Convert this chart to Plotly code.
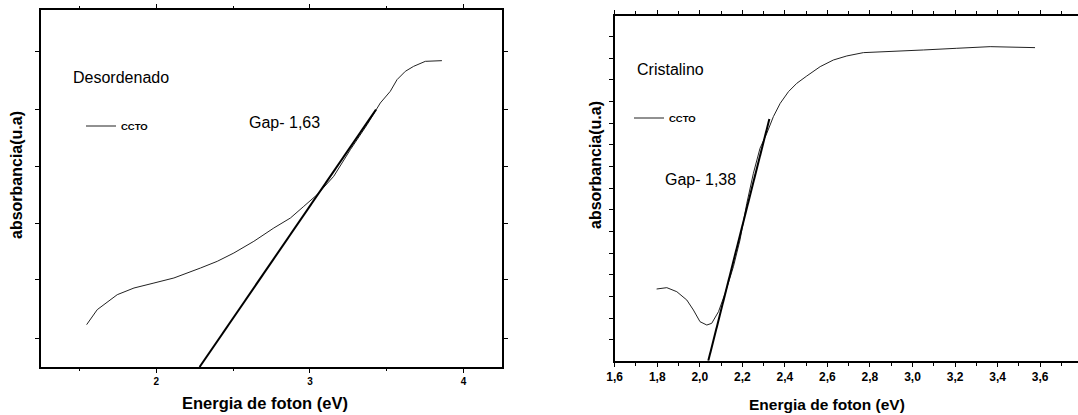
import plotly.graph_objects as go

# ---- Left panel (Desordenado) ----
left_energy = [1.547, 1.616, 1.746, 1.855, 1.985, 2.115, 2.288, 2.397, 2.505, 2.635,
               2.765, 2.873, 2.960, 3.047, 3.155, 3.263, 3.372, 3.458, 3.523, 3.567,
               3.621, 3.675, 3.751, 3.859]
left_abs = [0.747, 1.012, 1.276, 1.394, 1.482, 1.571, 1.747, 1.865, 2.012, 2.218,
            2.453, 2.629, 2.835, 3.041, 3.365, 3.835, 4.276, 4.659, 4.865, 5.071,
            5.218, 5.306, 5.394, 5.406]
left_fit_x = [2.282, 3.430]
left_fit_y = [0.0, 4.541]

# ---- Right panel (Cristalino) ----
right_energy = [1.797, 1.845, 1.892, 1.939, 1.970, 2.001, 2.033, 2.056, 2.088, 2.119,
                2.158, 2.189, 2.221, 2.252, 2.283, 2.315, 2.346, 2.378, 2.417, 2.456,
                2.503, 2.566, 2.628, 2.691, 2.769, 2.895, 3.051, 3.208, 3.365, 3.576]
right_abs = [1.654, 1.685, 1.592, 1.400, 1.169, 0.900, 0.823, 0.862, 1.131, 1.554,
             2.169, 2.785, 3.631, 4.323, 4.900, 5.246, 5.631, 5.938, 6.208, 6.400,
             6.569, 6.785, 6.938, 7.031, 7.108, 7.131, 7.169, 7.208, 7.246, 7.223]
right_fit_x = [2.040, 2.327]
right_fit_y = [0.0, 5.577]

left_xticks = [2, 3, 4]
left_xtick_labels = ["2", "3", "4"]
right_xticks = [1.6, 1.8, 2.0, 2.2, 2.4, 2.6, 2.8, 3.0, 3.2, 3.4, 3.6]
right_xtick_labels = ["1,6", "1,8", "2,0", "2,2", "2,4", "2,6", "2,8", "3,0", "3,2", "3,4", "3,6"]

FONT = "Liberation Sans, Arial, sans-serif"

fig = go.Figure()

fig.add_trace(go.Scatter(x=left_energy, y=left_abs, mode="lines", name="CCTO",
                         line=dict(color="#222222", width=1), xaxis="x", yaxis="y",
                         legend="legend"))
fig.add_trace(go.Scatter(x=left_fit_x, y=left_fit_y, mode="lines", showlegend=False,
                         line=dict(color="black", width=2), xaxis="x", yaxis="y"))
fig.add_trace(go.Scatter(x=right_energy, y=right_abs, mode="lines", name="CCTO",
                         line=dict(color="#222222", width=1), xaxis="x2", yaxis="y2",
                         legend="legend2"))
fig.add_trace(go.Scatter(x=right_fit_x, y=right_fit_y, mode="lines", showlegend=False,
                         line=dict(color="black", width=2), xaxis="x2", yaxis="y2"))

axis_common = dict(showline=True, linecolor="black", linewidth=2, showgrid=False,
                   zeroline=False, ticks="outside", tickcolor="black", ticklen=4,
                   tickwidth=1, automargin=False)

fig.update_layout(
    width=1078, height=415,
    margin=dict(l=0, r=0, t=0, b=0, autoexpand=False),
    paper_bgcolor="white", plot_bgcolor="white",
    font=dict(family=FONT, color="black"),
    xaxis=dict(domain=[41/1078, 502/1078], range=[1.25, 4.25],
               tickvals=left_xticks, ticktext=left_xtick_labels,
               tickfont=dict(size=10, family=FONT, weight="bold"),
               minor=dict(tickvals=[1.5, 2.5, 3.5], ticks="outside", ticklen=2, tickcolor="black"),
               mirror="ticks", anchor="y",
               **axis_common),
    yaxis=dict(domain=[48/415, 405/415], range=[0, 6.3],
               tickvals=[0.51, 1.54, 2.54, 3.54, 4.54, 5.57], showticklabels=False,
               mirror="ticks", anchor="x",
               **axis_common),
    xaxis2=dict(domain=[614.7/1078, 1.0], range=[1.6, 3.778],
                tickvals=right_xticks, ticktext=right_xtick_labels,
                tickfont=dict(size=12, family=FONT, weight="bold"),
                minor=dict(dtick=0.1, tick0=1.7, ticks="outside", ticklen=3, tickcolor="black"),
                mirror="ticks", anchor="y2",
                **axis_common),
    yaxis2=dict(domain=[54.3/415, 399.3/415], range=[0, 7.96],
                tickvals=[0.48 + 0.5 * k for k in range(15)], showticklabels=False,
                mirror=False, anchor="x2",
                **axis_common),
    legend=dict(x=81/1078, y=1 - 126/415, xanchor="left", yanchor="middle",
                bgcolor="rgba(0,0,0,0)", itemwidth=30,
                font=dict(size=9.5, family=FONT, weight="bold")),
    legend2=dict(x=629/1078, y=1 - 118/415, xanchor="left", yanchor="middle",
                 bgcolor="rgba(0,0,0,0)", itemwidth=30,
                 font=dict(size=9.5, family=FONT, weight="bold")),
    showlegend=True,
)

annotations = [
    dict(text="Desordenado", x=1.442, y=5.106, xref="x", yref="y", xanchor="left",
         yanchor="middle", showarrow=False, font=dict(size=16)),
    dict(text="Gap- 1,63", x=2.591, y=4.31, xref="x", yref="y", xanchor="left",
         yanchor="middle", showarrow=False, font=dict(size=16)),
    dict(text="Cristalino", x=1.696, y=6.71, xref="x2", yref="y2", xanchor="left",
         yanchor="middle", showarrow=False, font=dict(size=16)),
    dict(text="Gap- 1,38", x=1.829, y=4.19, xref="x2", yref="y2", xanchor="left",
         yanchor="middle", showarrow=False, font=dict(size=16)),
    dict(text="absorbancia(u.a)", x=16/1078, y=1 - 175/415, xref="paper", yref="paper",
         xanchor="center", yanchor="middle", textangle=-90, showarrow=False,
         font=dict(size=16, weight="bold")),
    dict(text="absorbancia(u.a)", x=595/1078, y=1 - 165/415, xref="paper", yref="paper",
         xanchor="center", yanchor="middle", textangle=-90, showarrow=False,
         font=dict(size=16, weight="bold")),
    dict(text="Energia de foton (eV)", x=265/1078, y=1 - 403/415, xref="paper", yref="paper",
         xanchor="center", yanchor="middle", showarrow=False,
         font=dict(size=16.5, weight="bold")),
    dict(text="Energia de foton (eV)", x=827/1078, y=1 - 404/415, xref="paper", yref="paper",
         xanchor="center", yanchor="middle", showarrow=False,
         font=dict(size=15.5, weight="bold")),
]
fig.update_layout(annotations=annotations)

fig.write_html("out.html")
